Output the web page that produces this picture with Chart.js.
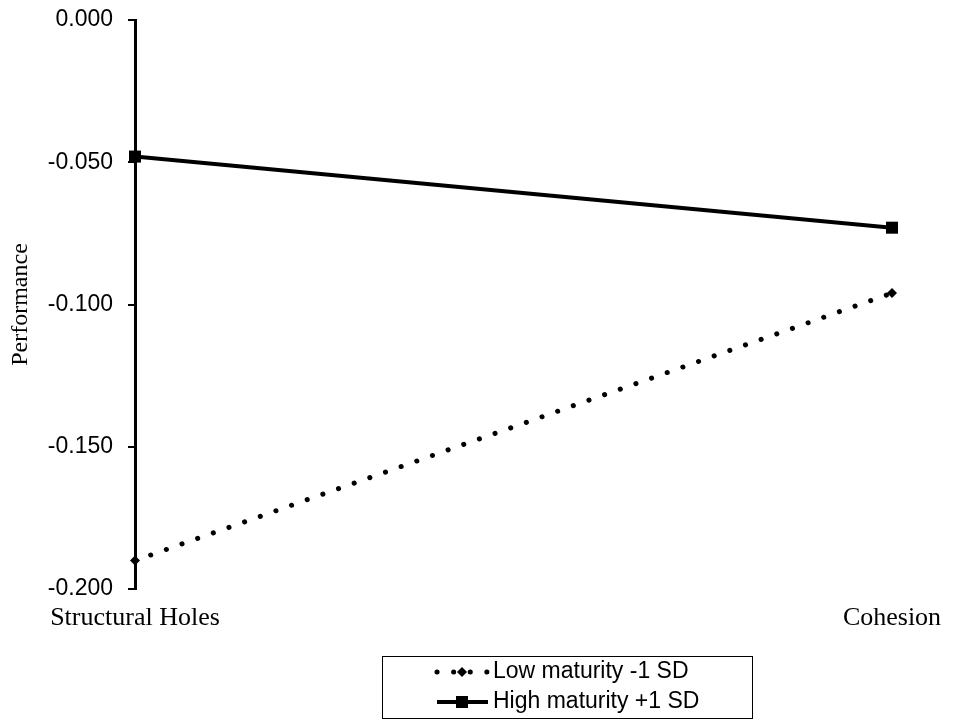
<!DOCTYPE html>
<html>
<head>
<meta charset="utf-8">
<script src="https://cdn.jsdelivr.net/npm/chart.js@4/dist/chart.umd.min.js"></script>
<style>
  html, body { margin: 0; padding: 0; background: #fff; }
  canvas { display: block; }
</style>
</head>
<body>
<canvas id="grafico" width="957" height="724"></canvas>
<script>
// Datos
const categorias = ['Structural Holes', 'Cohesion'];
const bajaMadurez = [-0.190, -0.096];
const altaMadurez = [-0.048, -0.073];
const etiquetasSeries = ['Low maturity -1 SD', 'High maturity +1 SD'];
const ejeY = { min: -0.2, max: 0, paso: 0.05 };
const tituloY = 'Performance';

const SERIF = '"Liberation Serif", "Times New Roman", serif';
const SANS = '"Liberation Sans", Arial, sans-serif';

// Leyenda con borde, dibujada a mano
const leyendaCaja = {
    id: 'leyendaCaja',
    afterDraw(chart) {
        const ctx = chart.ctx;
        const x0 = 382, y0 = 656, w = 370, h = 62;
        ctx.save();
        ctx.strokeStyle = '#000';
        ctx.lineWidth = 1;
        ctx.strokeRect(x0 + 0.5, y0 + 0.5, w, h);

        const filas = [672, 702];
        chart.data.datasets.forEach((ds, i) => {
            const y = filas[i];
            ctx.save();
            ctx.strokeStyle = '#000';
            ctx.lineWidth = ds.borderWidth;
            ctx.lineCap = ds.borderCapStyle || 'butt';
            ctx.setLineDash(ds.borderDash || []);
            ctx.beginPath();
            ctx.moveTo(437, y);
            ctx.lineTo(488, y);
            ctx.stroke();
            ctx.restore();
            ctx.fillStyle = '#000';
            Chart.helpers.drawPoint(ctx, {
                pointStyle: ds.pointStyle,
                radius: ds.pointRadius,
                borderWidth: 0
            }, 462, y);
            ctx.fillStyle = '#000';
            ctx.font = '23px ' + SANS;
            ctx.textBaseline = 'middle';
            ctx.textAlign = 'left';
            ctx.fillText(ds.label, 493, y);
        });
        ctx.restore();
    }
};

new Chart(document.getElementById('grafico'), {
    type: 'line',
    data: {
        labels: categorias,
        datasets: [
            {
                label: etiquetasSeries[0],
                data: bajaMadurez,
                borderColor: '#000',
                backgroundColor: '#000',
                borderWidth: 5,
                borderDash: [0.1, 16.5],
                borderCapStyle: 'round',
                pointStyle: 'rectRot',
                pointRadius: 5,
                pointBorderWidth: 0,
                clip: false
            },
            {
                label: etiquetasSeries[1],
                data: altaMadurez,
                borderColor: '#000',
                backgroundColor: '#000',
                borderWidth: 4,
                pointStyle: 'rect',
                pointRadius: 8.5,
                pointBorderWidth: 0,
                clip: false
            }
        ]
    },
    options: {
        responsive: false,
        animation: false,
        devicePixelRatio: 1,
        layout: {
            padding: { top: 20, right: 65, bottom: 85, left: 0 }
        },
        plugins: {
            legend: { display: false },
            tooltip: { enabled: false }
        },
        scales: {
            x: {
                offset: false,
                grid: { display: false, drawTicks: false },
                border: { display: false },
                ticks: {
                    color: '#000',
                    font: { family: SERIF, size: 26 },
                    padding: 14,
                    maxRotation: 0,
                    autoSkip: false
                },
                afterFit(scale) { scale.height = 50; }
            },
            y: {
                min: ejeY.min,
                max: ejeY.max,
                border: { display: true, color: '#000', width: 3 },
                grid: {
                    drawOnChartArea: false,
                    drawTicks: true,
                    tickLength: 7,
                    tickColor: '#000',
                    lineWidth: 2
                },
                ticks: {
                    stepSize: ejeY.paso,
                    color: '#000',
                    font: { family: SANS, size: 23 },
                    padding: 15,
                    callback: v => Number(v).toFixed(3)
                },
                title: {
                    display: true,
                    text: tituloY,
                    color: '#000',
                    font: { family: SERIF, size: 24 },
                    padding: { top: 6, bottom: 0 }
                },
                afterFit(scale) {
                    scale.width = 135;
                    scale.paddingTop = 0;
                    scale.paddingBottom = 0;
                }
            }
        }
    },
    plugins: [leyendaCaja]
});
</script>
</body>
</html>
